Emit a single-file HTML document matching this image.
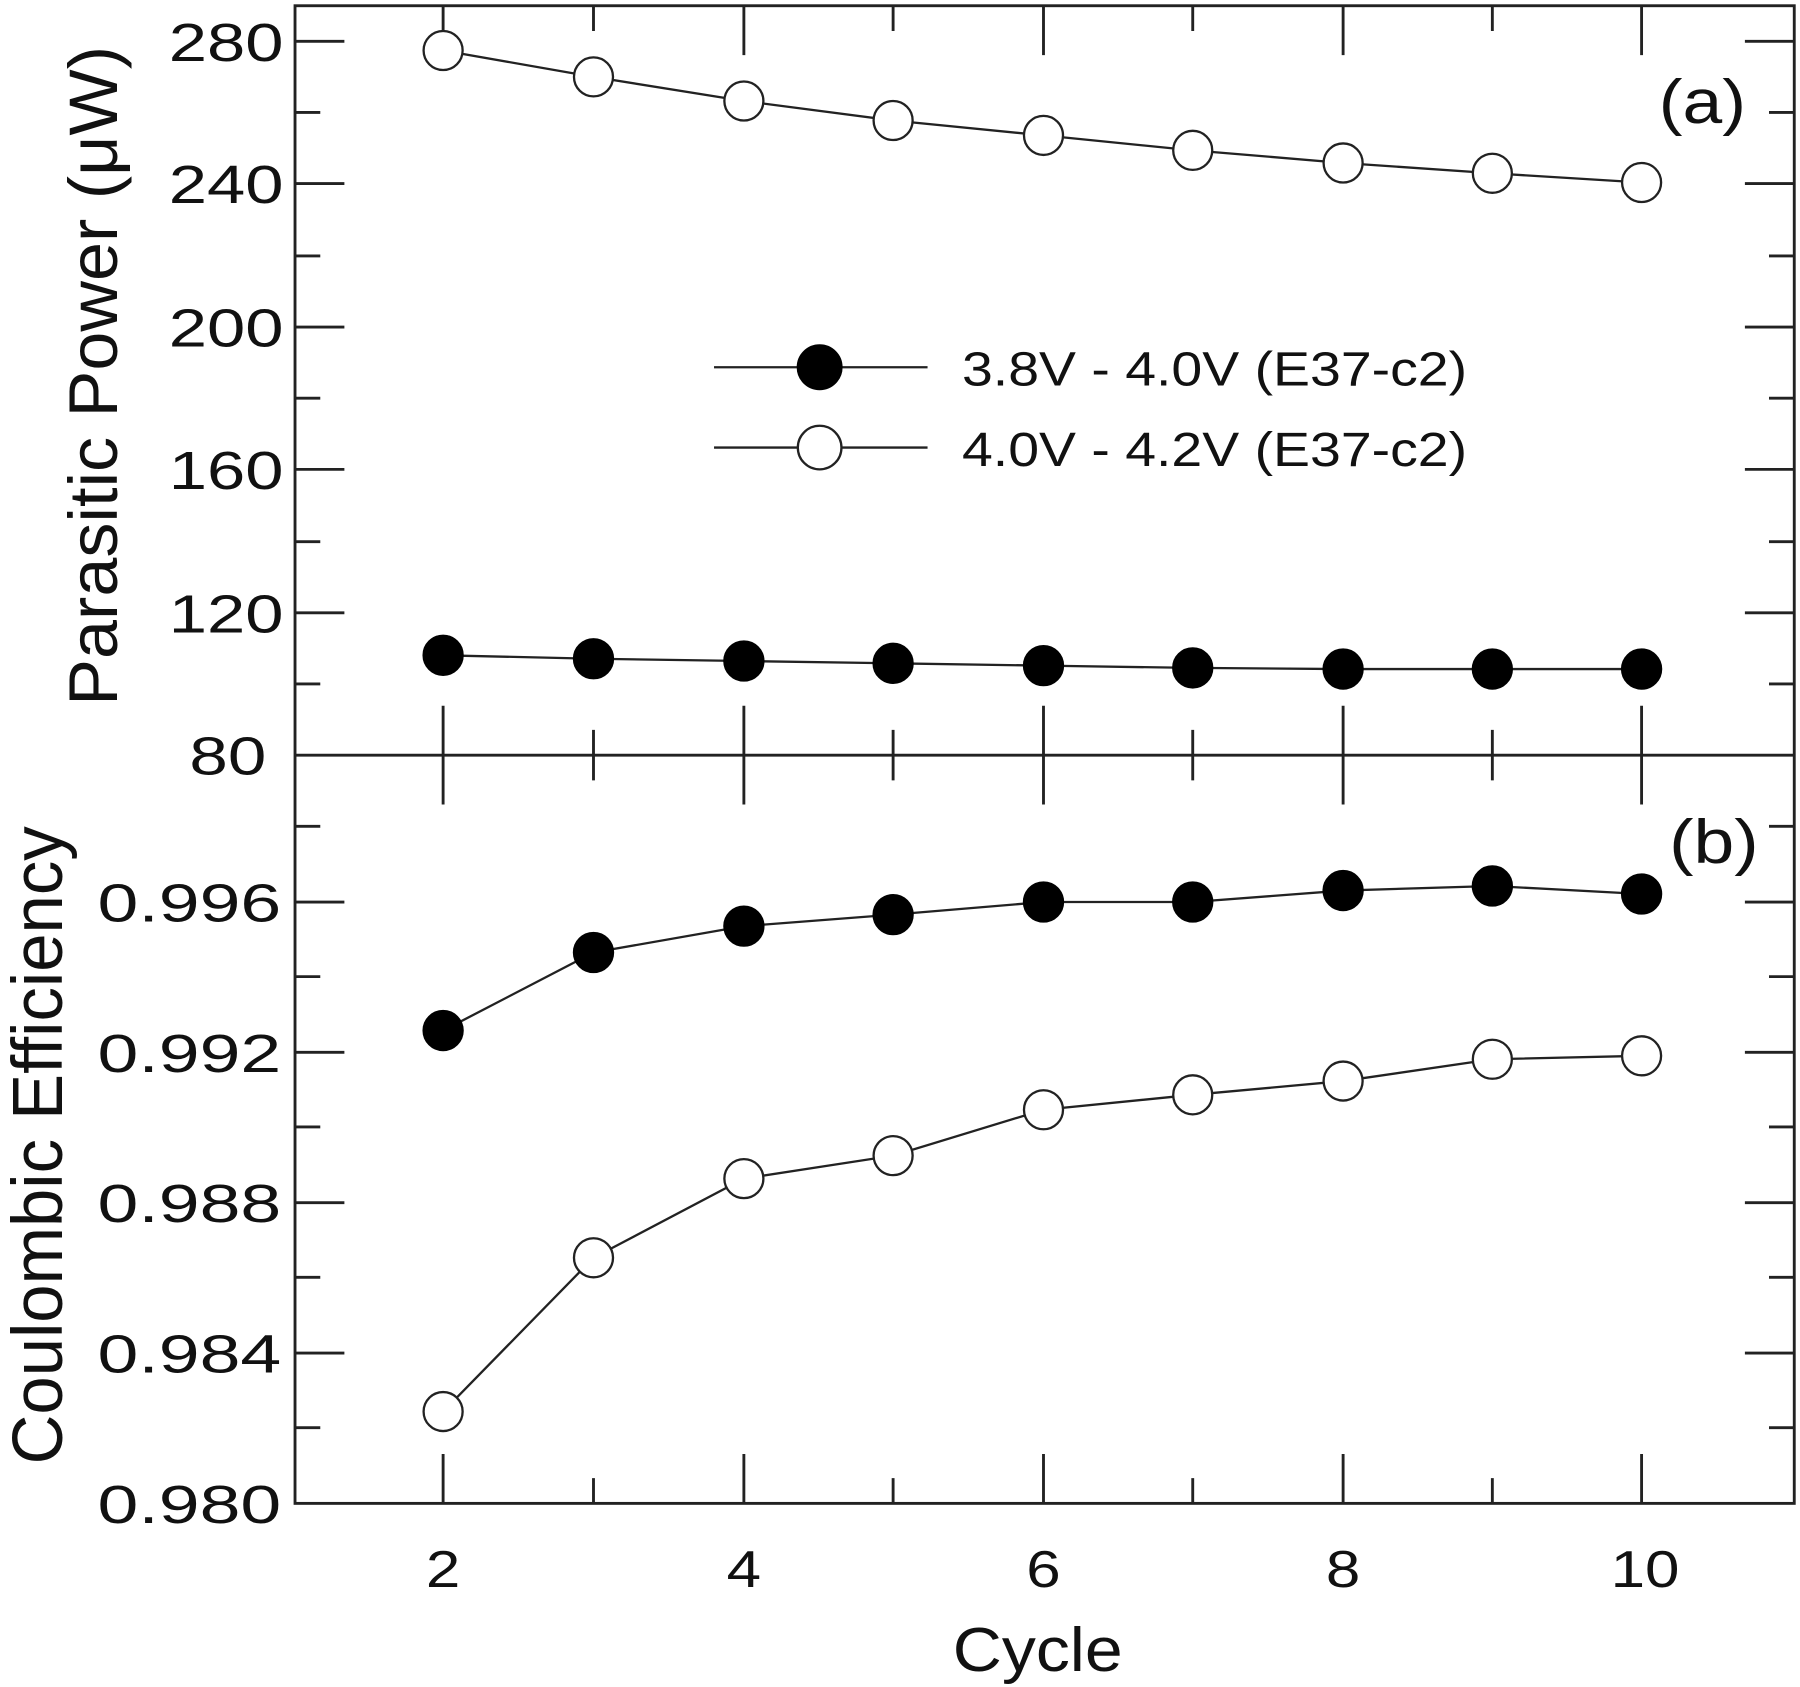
<!DOCTYPE html><html><head><style>body{margin:0;background:#fff}svg{display:block}</style></head><body>
<svg width="1800" height="1687" viewBox="0 0 1568 1470" preserveAspectRatio="none" xmlns="http://www.w3.org/2000/svg" font-family="Liberation Sans, sans-serif">
<rect width="1568" height="1470" fill="#fff"/>
<g stroke="#222" stroke-width="2.5" fill="none">
<rect x="257" y="5" width="1306" height="1305"/>
<line x1="257" y1="658" x2="1563" y2="658"/>
<path d="M386 615V701M648 615V701M909 615V701M1170 615V701M1430 615V701
M517 636V680M778 636V680M1039 636V680M1300 636V680
M386 1310V1267M648 1310V1267M909 1310V1267M1170 1310V1267M1430 1310V1267
M517 1310V1288M778 1310V1288M1039 1310V1288M1300 1310V1288
M386 5V48M648 5V48M909 5V48M1170 5V48M1430 5V48
M517 5V27M778 5V27M1039 5V27M1300 5V27"/>
<path d="M257 36h43M257 160h43M257 285h43M257 409h43M257 534h43
M257 98h22M257 223h22M257 347h22M257 472h22M257 596h22
M1563 36h-43M1563 160h-43M1563 285h-43M1563 409h-43M1563 534h-43
M1563 98h-22M1563 223h-22M1563 347h-22M1563 472h-22M1563 596h-22"/>
<path d="M257 786h43M257 917h43M257 1048h43M257 1179h43
M257 720h22M257 851h22M257 982h22M257 1113h22M257 1244h22
M1563 786h-43M1563 917h-43M1563 1048h-43M1563 1179h-43
M1563 720h-22M1563 851h-22M1563 982h-22M1563 1113h-22M1563 1244h-22"/>
</g>
<g font-size="47" fill="#111">
<text x="147" y="53" textLength="100" lengthAdjust="spacingAndGlyphs">280</text>
<text x="147" y="177" textLength="100" lengthAdjust="spacingAndGlyphs">240</text>
<text x="147" y="302" textLength="100" lengthAdjust="spacingAndGlyphs">200</text>
<text x="147" y="426" textLength="100" lengthAdjust="spacingAndGlyphs">160</text>
<text x="147" y="551" textLength="100" lengthAdjust="spacingAndGlyphs">120</text>
<text x="165" y="675" textLength="67" lengthAdjust="spacingAndGlyphs">80</text>
<text x="85" y="803" textLength="160" lengthAdjust="spacingAndGlyphs">0.996</text>
<text x="85" y="934" textLength="160" lengthAdjust="spacingAndGlyphs">0.992</text>
<text x="85" y="1065" textLength="160" lengthAdjust="spacingAndGlyphs">0.988</text>
<text x="85" y="1196" textLength="160" lengthAdjust="spacingAndGlyphs">0.984</text>
<text x="85" y="1327" textLength="160" lengthAdjust="spacingAndGlyphs">0.980</text>
</g>
<g font-size="45" fill="#111">
<text x="371" y="1383" textLength="30" lengthAdjust="spacingAndGlyphs">2</text>
<text x="633" y="1383" textLength="30" lengthAdjust="spacingAndGlyphs">4</text>
<text x="894" y="1383" textLength="30" lengthAdjust="spacingAndGlyphs">6</text>
<text x="1155" y="1383" textLength="30" lengthAdjust="spacingAndGlyphs">8</text>
<text x="1403" y="1383" textLength="60" lengthAdjust="spacingAndGlyphs">10</text>
<text x="830" y="1456" font-size="54" textLength="148" lengthAdjust="spacingAndGlyphs">Cycle</text>
</g>
<text transform="translate(102,615) rotate(-90)" font-size="60" fill="#111" textLength="575" lengthAdjust="spacingAndGlyphs">Parasitic Power (μW)</text>
<text transform="translate(54,1276) rotate(-90)" font-size="62" fill="#111" textLength="556" lengthAdjust="spacingAndGlyphs">Coulombic Efficiency</text>
<text x="1445" y="107" font-size="54" fill="#111" textLength="76" lengthAdjust="spacingAndGlyphs">(a)</text>
<text x="1454" y="752" font-size="54" fill="#111" textLength="78" lengthAdjust="spacingAndGlyphs">(b)</text>
<g stroke="#222" stroke-width="2" fill="none">
<polyline points="386,44 517,67 648,88 778,105 909,118 1039,131 1170,142 1300,151 1430,159"/>
<polyline points="386,571 517,574 648,576 778,578 909,580 1039,582 1170,583 1300,583 1430,583"/>
<polyline points="386,898 517,830 648,807 778,797 909,786 1039,786 1170,776 1300,772 1430,779"/>
<polyline points="386,1230 517,1096 648,1027 778,1007 909,967 1039,954 1170,942 1300,923 1430,920"/>
<line x1="622" y1="320" x2="808" y2="320"/><line x1="622" y1="390" x2="808" y2="390"/>
</g>
<g fill="#000" stroke="#000" stroke-width="2">
<circle cx="386" cy="571" r="17"/><circle cx="517" cy="574" r="17"/><circle cx="648" cy="576" r="17"/><circle cx="778" cy="578" r="17"/><circle cx="909" cy="580" r="17"/><circle cx="1039" cy="582" r="17"/><circle cx="1170" cy="583" r="17"/><circle cx="1300" cy="583" r="17"/><circle cx="1430" cy="583" r="17"/>
<circle cx="386" cy="898" r="17"/><circle cx="517" cy="830" r="17"/><circle cx="648" cy="807" r="17"/><circle cx="778" cy="797" r="17"/><circle cx="909" cy="786" r="17"/><circle cx="1039" cy="786" r="17"/><circle cx="1170" cy="776" r="17"/><circle cx="1300" cy="772" r="17"/><circle cx="1430" cy="779" r="17"/>
<circle cx="714" cy="320" r="19"/>
</g>
<g fill="#fff" stroke="#222" stroke-width="2">
<circle cx="386" cy="44" r="17"/><circle cx="517" cy="67" r="17"/><circle cx="648" cy="88" r="17"/><circle cx="778" cy="105" r="17"/><circle cx="909" cy="118" r="17"/><circle cx="1039" cy="131" r="17"/><circle cx="1170" cy="142" r="17"/><circle cx="1300" cy="151" r="17"/><circle cx="1430" cy="159" r="17"/>
<circle cx="386" cy="1230" r="17"/><circle cx="517" cy="1096" r="17"/><circle cx="648" cy="1027" r="17"/><circle cx="778" cy="1007" r="17"/><circle cx="909" cy="967" r="17"/><circle cx="1039" cy="954" r="17"/><circle cx="1170" cy="942" r="17"/><circle cx="1300" cy="923" r="17"/><circle cx="1430" cy="920" r="17"/>
<circle cx="714" cy="390" r="19"/>
</g>
<g font-size="42" fill="#111">
<text x="838" y="336" textLength="440" lengthAdjust="spacingAndGlyphs">3.8V - 4.0V (E37-c2)</text>
<text x="838" y="406" textLength="440" lengthAdjust="spacingAndGlyphs">4.0V - 4.2V (E37-c2)</text>
</g>
</svg></body></html>
